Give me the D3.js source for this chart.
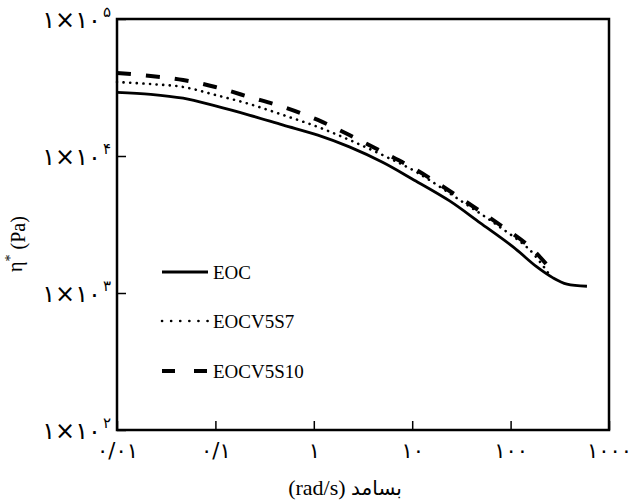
<!DOCTYPE html>
<html>
<head>
<meta charset="utf-8">
<script src="https://cdn.jsdelivr.net/npm/d3@7"></script>
<style>
  body { margin: 0; background: white; }
  text { font-family: 'Liberation Serif', 'DejaVu Sans', serif; fill: black; }
</style>
</head>
<body>
<div id="chart"></div>
<script>
// values
var freqEOC = [0.01, 0.022, 0.047, 0.1, 0.22, 0.49, 1.1, 2.3, 5, 10, 24, 49, 106, 185, 270, 374, 597];
var etaEOC = [29100, 28200, 26400, 23200, 19900, 16800, 14200, 11650, 9000, 6800, 4700, 3250, 2170, 1550, 1290, 1160, 1120];

var freqV5S = [0.01, 0.022, 0.047, 0.1, 0.22, 0.49, 1.1, 2.3, 5, 11, 33, 73, 157, 250];
var etaV5S7 = [34700, 33500, 31900, 27900, 24000, 19900, 16300, 13100, 10160, 7640, 4590, 3130, 2060, 1350];
var etaV5S10 = [40400, 38400, 35900, 31900, 27000, 22800, 18330, 14220, 10700, 7910, 4780, 3250, 2170, 1520];

var seriesNames = ["EOC", "EOCV5S7", "EOCV5S10"];
var xTicks = [0.01, 0.1, 1, 10, 100, 1000];
var xTickLabels = ["0/01", "0/1", "1", "10", "100", "1000"];
var yTicks = [100, 1000, 10000, 100000];
var yExponents = ["2", "3", "4", "5"];

function fa(s) {
  return String(s).replace(/[0-9]/g, function(d) { return "۰۱۲۳۴۵۶۷۸۹"[+d]; });
}

var width = 631, height = 501;
var mLeft = 117, mRight = 609, mTop = 19, mBottom = 430;

var svg = d3.select("#chart").append("svg")
  .attr("width", width)
  .attr("height", height);

svg.append("rect").attr("width", width).attr("height", height).attr("fill", "white");

var x = d3.scaleLog().domain([0.01, 1000]).range([mLeft, mRight]);
var y = d3.scaleLog().domain([100, 100000]).range([mBottom, mTop]);

// frame
svg.append("rect")
  .attr("x", mLeft).attr("y", mTop)
  .attr("width", mRight - mLeft).attr("height", mBottom - mTop)
  .attr("fill", "none").attr("stroke", "black").attr("stroke-width", 2.5);

// x axis ticks (inside)
var xAxis = svg.append("g")
  .attr("transform", "translate(0," + mBottom + ")")
  .call(d3.axisBottom(x).tickValues(xTicks).tickSize(-9).tickPadding(13)
    .tickFormat(function(d, i) { return fa(xTickLabels[i]); }));
xAxis.select(".domain").remove();
xAxis.selectAll("line").attr("stroke-width", 1.5);
xAxis.selectAll("text").attr("font-size", 21)
  .style("font-family", "'DejaVu Sans', sans-serif");

// y axis ticks (inside)
var yAxis = svg.append("g")
  .attr("transform", "translate(" + mLeft + ",0)")
  .call(d3.axisLeft(y).tickValues(yTicks).tickSize(-9).tickFormat(""));
yAxis.select(".domain").remove();
yAxis.selectAll("line").attr("stroke-width", 1.5);

var yLab = svg.append("g").selectAll("text")
  .data(yTicks)
  .enter()
  .append("text")
    .attr("x", 111)
    .attr("y", function(d) { return y(d); })
    .attr("dy", "0.38em")
    .attr("text-anchor", "end")
    .attr("font-size", 24)
    .style("font-family", "'DejaVu Sans', sans-serif");
yLab.append("tspan").text(fa("1×10"));
yLab.append("tspan")
  .attr("font-size", 15)
  .attr("dx", 2)
  .attr("dy", "-0.75em")
  .text(function(d, i) { return fa(yExponents[i]); });

// curves
var line = d3.line()
  .x(function(d) { return x(d[0]); })
  .y(function(d) { return y(d[1]); })
  .curve(d3.curveCatmullRom.alpha(0.5));

var series = [
  { name: seriesNames[0], pts: d3.zip(freqEOC, etaEOC), width: 2.8, dash: null, legDash: null, cap: "butt" },
  { name: seriesNames[1], pts: d3.zip(freqV5S, etaV5S7), width: 2.6, dash: "0.1,6.5", legDash: "0.1,9", cap: "round" },
  { name: seriesNames[2], pts: d3.zip(freqV5S, etaV5S10), width: 4, dash: "14,15", legDash: "13,19", cap: "butt" }
];

svg.append("g").selectAll("path")
  .data(series)
  .enter()
  .append("path")
    .attr("d", function(d) { return line(d.pts); })
    .attr("fill", "none")
    .attr("stroke", "black")
    .attr("stroke-width", function(d) { return d.width; })
    .attr("stroke-dasharray", function(d) { return d.dash; })
    .attr("stroke-linecap", function(d) { return d.cap; });

// legend
var legendY = [272, 321, 371];
var lg = svg.append("g").selectAll("g")
  .data(series)
  .enter()
  .append("g")
    .attr("transform", function(d, i) { return "translate(162," + legendY[i] + ")"; });
lg.append("line")
  .attr("x1", 0).attr("x2", 46)
  .attr("stroke", "black")
  .attr("stroke-width", function(d) { return d.width; })
  .attr("stroke-dasharray", function(d) { return d.legDash; })
  .attr("stroke-linecap", function(d) { return d.cap; });
lg.append("text")
  .attr("x", 51).attr("y", 7)
  .attr("font-size", 19)
  .text(function(d) { return d.name; });

// axis titles
var xt = svg.append("text")
  .attr("x", 345).attr("y", 495)
  .attr("text-anchor", "middle")
  .attr("font-size", 22);
xt.append("tspan").text("(rad/s) ");
xt.append("tspan").style("font-family", "'DejaVu Sans', sans-serif").attr("font-size", 20).text("بسامد");

var yt = svg.append("text")
  .attr("transform", "translate(22,244) rotate(-90)")
  .attr("text-anchor", "middle")
  .attr("font-size", 20);
yt.append("tspan").text("η");
yt.append("tspan").attr("font-size", 14).attr("dy", "-0.5em").text("*");
yt.append("tspan").attr("dy", "0.5em").text(" (Pa)");
</script>
</body>
</html>
